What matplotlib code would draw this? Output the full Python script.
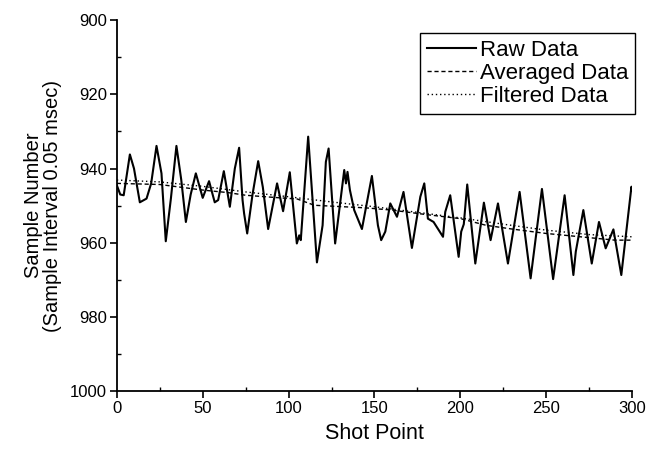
import matplotlib
matplotlib.use("Agg")
import matplotlib.pyplot as plt
from matplotlib.ticker import MultipleLocator

plt.rcParams['font.family'] = ['Liberation Sans', 'DejaVu Sans']

raw_x = [0, 2, 4, 7.6, 10, 13.4, 17.3, 20, 23.1, 26, 28.5, 31.5, 34.7, 37.5, 40.2, 43, 46, 50,
         53.7, 57, 59, 62.3, 65.8, 68.7, 71.2, 73.2, 74.1, 75.9, 79, 82.3, 85, 88.1, 93.3, 96.8,
         100.7, 104.8, 106.2, 107.1, 111.4, 116.5, 119.8, 121.7, 123.3, 127.1, 132.4, 133.4, 134.3,
         135.7, 138.2, 142.7, 148.5, 152, 153.9, 156.3, 159.2, 163.1, 166.9, 171.8, 176.7, 179,
         181.1, 184.4, 189.9, 191.2, 194.1, 199, 200.5, 202, 204, 208.7, 213.7, 217.6, 221.9,
         227.7, 234.5, 240.9, 247.5, 254, 260.7, 265.8, 267.2, 271.6, 276.5, 280.7, 284.6, 289.1,
         293.7, 299.6, 300]
raw_y = [944.5, 947, 947.2, 936.2, 940, 949.1, 948.1, 944, 933.9, 941.3, 959.6, 948, 933.9, 943,
         954.4, 947, 941.3, 947.9, 943.4, 949.1, 948.5, 940.7, 950.3, 940, 934.4, 948.5, 952.1,
         957.5, 947, 938, 945, 956.3, 944, 951.5, 941, 960.2, 958, 959.3, 931.4, 965.3, 955.3,
         938.2, 934.6, 960.2, 940.4, 944, 940.9, 945.8, 951.2, 956.3, 942, 955.3, 959.3, 957,
         949.4, 953, 946.3, 961.4, 947.6, 944, 953.5, 954.4, 958.4, 951.7, 947.2, 963.8, 957,
         955, 944.3, 965.6, 949.2, 959.3, 949.4, 965.6, 946.3, 969.6, 945.5, 969.8, 947.2, 968.7,
         962.4, 951.2, 965.6, 954.4, 961.5, 956.4, 968.7, 944.9, 946]

avg_x = [0, 25, 50, 65, 75, 95, 105, 115, 145, 160, 180, 200, 215, 230, 250, 270, 290, 300]
avg_y = [944, 944.3, 945.8, 946.5, 947.2, 947.9, 948.2, 949.9, 950.6, 951.2, 952.4, 953.5,
         955.3, 956.3, 957.5, 958.4, 959.3, 959.3]

filt_x = [0, 25, 50, 75, 100, 125, 150, 175, 200, 225, 250, 275, 300]
filt_y = [943.1, 943.6, 944.8, 946.3, 947.6, 949.0, 950.3, 951.8, 953.3, 955.0, 956.6, 957.8, 958.4]

xlim = (0, 300)
ylim = (1000, 900)
xticks = [0, 50, 100, 150, 200, 250, 300]
yticks = [900, 920, 940, 960, 980, 1000]

fig = plt.figure(figsize=(6.49, 4.58), dpi=100)
ax = fig.add_axes([0.180, 0.146, 0.794, 0.810])

ax.plot(raw_x, raw_y, color='black', lw=1.5, label='Raw Data')
ax.plot(avg_x, avg_y, color='black', lw=1.0, ls=(0, (3, 2)), label='Averaged Data')
ax.plot(filt_x, filt_y, color='black', lw=1.0, ls=(0, (1, 2)), label='Filtered Data')

ax.set_xlim(*xlim)
ax.set_ylim(*ylim)
ax.set_xticks(xticks)
ax.set_yticks(yticks)
ax.xaxis.set_minor_locator(MultipleLocator(25))
ax.yaxis.set_minor_locator(MultipleLocator(10))
ax.tick_params(which='major', direction='out', length=5, width=1.2, labelsize=12, pad=2)
ax.tick_params(which='minor', direction='in', length=3, width=1.0)
for s in ['top', 'right']:
    ax.spines[s].set_visible(False)
for s in ['left', 'bottom']:
    ax.spines[s].set_linewidth(1.3)

ax.set_xlabel('Shot Point', fontsize=15.5, labelpad=5)
ax.set_ylabel('Sample Number\n(Sample Interval 0.05 msec)', fontsize=14.5, labelpad=6, linespacing=1.0)

leg = ax.legend(loc='upper right', bbox_to_anchor=(1.006, 0.965), fontsize=16, frameon=True,
                fancybox=False, edgecolor='black', framealpha=1, borderpad=0.3,
                labelspacing=0.1, handlelength=2.2, handletextpad=0.2, borderaxespad=0)
leg.get_frame().set_linewidth(1.0)

fig.savefig('out.png', dpi=100)
